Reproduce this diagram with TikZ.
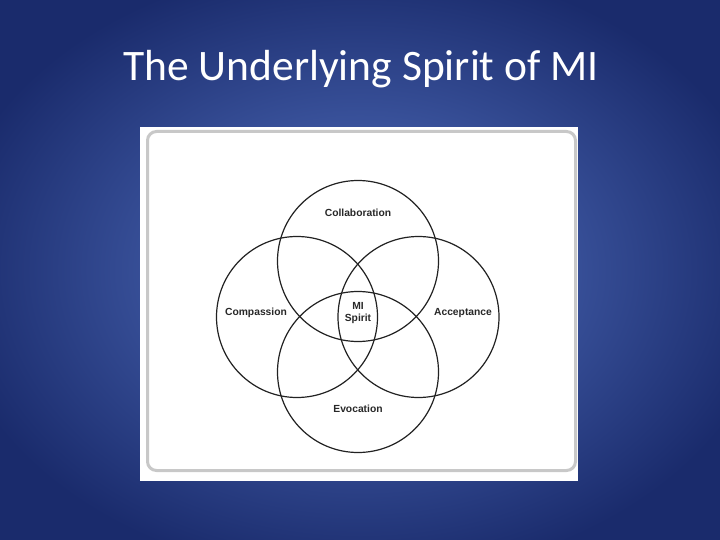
\documentclass[tikz,border=0pt]{standalone}
\usepackage{fontspec}
\setmainfont{Carlito}
\newfontfamily\labelfont{Liberation Sans}
\definecolor{bginner}{HTML}{5574C4}
\definecolor{bgouter}{HTML}{1A2B6C}
\definecolor{framegray}{HTML}{C8C8C8}
\definecolor{inkgray}{HTML}{222222}
\definecolor{txtgray}{HTML}{282828}
\tikzset{
  venn/.style={circle, draw=inkgray, line width=1.2pt, minimum size=161pt, inner sep=0pt},
  vlabel/.style={font=\labelfont\bfseries\fontsize{10.3}{12.5}\selectfont, text=txtgray, inner sep=0pt, align=center},
}
\begin{document}
\begin{tikzpicture}[x=1pt,y=-1pt]
\useasboundingbox (0,0) rectangle (720,540);
\shade[inner color=bginner, outer color=bgouter] (-60,-40) rectangle (780,580);
\node[anchor=base, text=white, font=\fontsize{43.5}{50}\selectfont, inner sep=0pt] (title) at (361,81) {The Underlying Spirit of MI};
\fill[white] (140,127) rectangle (578,481);
\draw[framegray, line width=3pt, rounded corners=9pt] (147.5,131.5) rectangle (575.5,470.5);
\node[venn] (collab) at (358,261) {};
\node[venn] (compass) at (297,317) {};
\node[venn] (accept) at (418.5,317) {};
\node[venn] (evoc) at (358,372) {};
\node[vlabel] (lcollab) at (358,213) {Collaboration};
\node[vlabel] (lcompass) at (256,313) {Compassion};
\node[vlabel] (laccept) at (463,313) {Acceptance};
\node[vlabel] (levoc) at (358,409) {Evocation};
\node[vlabel] (lspirit) at (358,313) {MI\\Spirit};
\end{tikzpicture}
\end{document}
